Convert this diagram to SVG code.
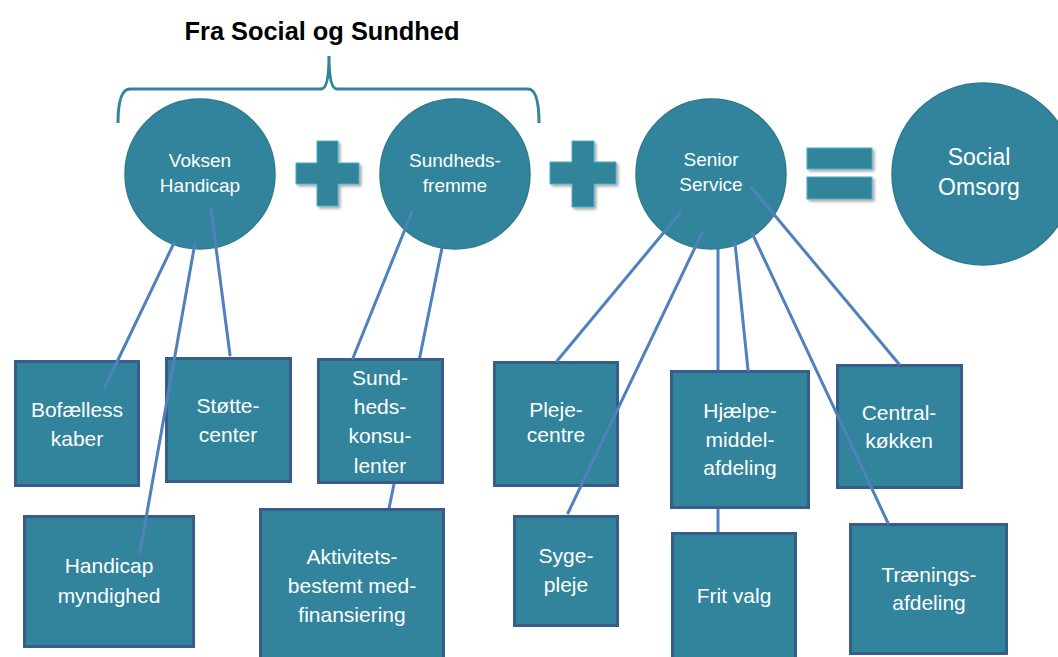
<svg xmlns="http://www.w3.org/2000/svg" width="1058" height="657" viewBox="0 0 1058 657">
<defs>
<filter id="sh" x="-20%" y="-20%" width="150%" height="150%">
<feDropShadow dx="2" dy="2" stdDeviation="1.5" flood-color="#000" flood-opacity="0.35"/>
</filter>
</defs>
<style>
.circ{fill:#31849B;stroke:#2D7A8F;stroke-width:1.5}
.box{fill:#31849B;stroke:#385D8A;stroke-width:3}
.op{fill:#31849B;stroke:#4BACC6;stroke-width:1}
.con{stroke:#4F81BD;stroke-width:3;fill:none;stroke-linecap:round}
.ct{font-family:"Liberation Sans",Arial,sans-serif;font-size:19px;fill:#FFFFFF;text-anchor:middle}
.bt{font-family:"Liberation Sans",Arial,sans-serif;font-size:21px;fill:#FFFFFF;text-anchor:middle}
.big{font-family:"Liberation Sans",Arial,sans-serif;font-size:23px;fill:#FFFFFF;text-anchor:middle}
</style>
<rect width="1058" height="657" fill="#FFFFFF"/>

<g id="title">
<text x="322" y="40" font-family="'Liberation Sans',Arial,sans-serif" font-size="25" font-weight="bold" fill="#000" text-anchor="middle" textLength="275" lengthAdjust="spacingAndGlyphs">Fra Social og Sundhed</text>
<path d="M118,123 Q118,89 130,89 L321,89 Q329,89 329,56 Q329,89 337,89 L528,89 Q539,89 539,123" fill="none" stroke="#31849B" stroke-width="3"/>
</g>

<g id="connectors-back">
<line class="con" x1="443" y1="243" x2="382" y2="543"/>
<line class="con" x1="718" y1="242" x2="718" y2="542"/>
</g>

<g id="voksen-handicap">
<circle class="circ" cx="200" cy="174" r="75"/>
<text class="ct" x="200" y="167">Voksen</text>
<text class="ct" x="200" y="192">Handicap</text>
</g>
<g id="plus1" filter="url(#sh)">
<path class="op" d="M317,141 H338 V163 H359 V184 H338 V206 H317 V184 H296 V163 H317 Z"/>
</g>
<g id="sundhedsfremme">
<circle class="circ" cx="455" cy="174" r="75"/>
<text class="ct" x="455" y="167">Sundheds-</text>
<text class="ct" x="455" y="192">fremme</text>
</g>
<g id="plus2" filter="url(#sh)">
<path class="op" d="M572,141 H594 V162 H616 V184 H594 V207 H572 V184 H550 V162 H572 Z"/>
</g>
<g id="senior-service">
<circle class="circ" cx="711" cy="174" r="75"/>
<text class="ct" x="711" y="166">Senior</text>
<text class="ct" x="711" y="191">Service</text>
</g>
<g id="equals" filter="url(#sh)">
<rect class="op" x="807" y="148" width="65" height="21"/>
<rect class="op" x="807" y="177" width="65" height="22"/>
</g>
<g id="social-omsorg">
<circle class="circ" cx="983" cy="174" r="91"/>
<text class="big" x="979" y="165">Social</text>
<text class="big" x="979" y="195">Omsorg</text>
</g>

<g id="bofaellesskaber">
<rect class="box" x="15.5" y="361.5" width="123" height="124"/>
<text class="bt" x="77" y="417">Bofælless</text>
<text class="bt" x="77" y="446">kaber</text>
</g>
<g id="stottecenter">
<rect class="box" x="166.5" y="358.5" width="124" height="123"/>
<text class="bt" x="228" y="413">Støtte-</text>
<text class="bt" x="228" y="442">center</text>
</g>
<g id="sundhedskonsulenter">
<rect class="box" x="318.5" y="359.5" width="124" height="123"/>
<text class="bt" x="380" y="385">Sund-</text>
<text class="bt" x="380" y="414">heds-</text>
<text class="bt" x="380" y="443">konsu-</text>
<text class="bt" x="380" y="473">lenter</text>
</g>
<g id="handicap-myndighed">
<rect class="box" x="24.5" y="516.5" width="169" height="130"/>
<text class="bt" x="109" y="573">Handicap</text>
<text class="bt" x="109" y="603">myndighed</text>
</g>
<g id="aktivitets">
<rect class="box" x="260.5" y="509.5" width="183" height="160"/>
<text class="bt" x="352" y="564">Aktivitets-</text>
<text class="bt" x="352" y="593">bestemt med-</text>
<text class="bt" x="352" y="622">finansiering</text>
</g>
<g id="plejecentre">
<rect class="box" x="494.5" y="362.5" width="123" height="123"/>
<text class="bt" x="556" y="417">Pleje-</text>
<text class="bt" x="556" y="442">centre</text>
</g>
<g id="sygepleje">
<rect class="box" x="514.5" y="516.5" width="103" height="109"/>
<text class="bt" x="566" y="563">Syge-</text>
<text class="bt" x="566" y="592">pleje</text>
</g>
<g id="hjaelpemiddel">
<rect class="box" x="671.5" y="371.5" width="137" height="136"/>
<text class="bt" x="740" y="418">Hjælpe-</text>
<text class="bt" x="740" y="447">middel-</text>
<text class="bt" x="740" y="475">afdeling</text>
</g>
<g id="frit-valg">
<rect class="box" x="672.5" y="533.5" width="123" height="130"/>
<text class="bt" x="734" y="603">Frit valg</text>
</g>
<g id="centralkokken">
<rect class="box" x="837.5" y="365.5" width="124" height="122"/>
<text class="bt" x="899" y="420">Central-</text>
<text class="bt" x="899" y="448">køkken</text>
</g>
<g id="traeningsafdeling">
<rect class="box" x="850.5" y="524.5" width="156" height="129"/>
<text class="bt" x="929" y="582">Trænings-</text>
<text class="bt" x="929" y="610">afdeling</text>
</g>

<g id="connectors">
<line class="con" x1="174" y1="243" x2="105" y2="387"/>
<line class="con" x1="195" y1="243" x2="140" y2="552"/>
<line class="con" x1="211" y1="209" x2="230" y2="355"/>
<line class="con" x1="412" y1="212" x2="353" y2="358"/>
<line class="con" x1="680" y1="213" x2="557" y2="361"/>
<line class="con" x1="702" y1="233" x2="568" y2="513"/>
<line class="con" x1="735" y1="243" x2="748" y2="370"/>
<line class="con" x1="752" y1="233" x2="888" y2="523"/>
<line class="con" x1="751" y1="187" x2="899" y2="364"/>
</g>
</svg>
